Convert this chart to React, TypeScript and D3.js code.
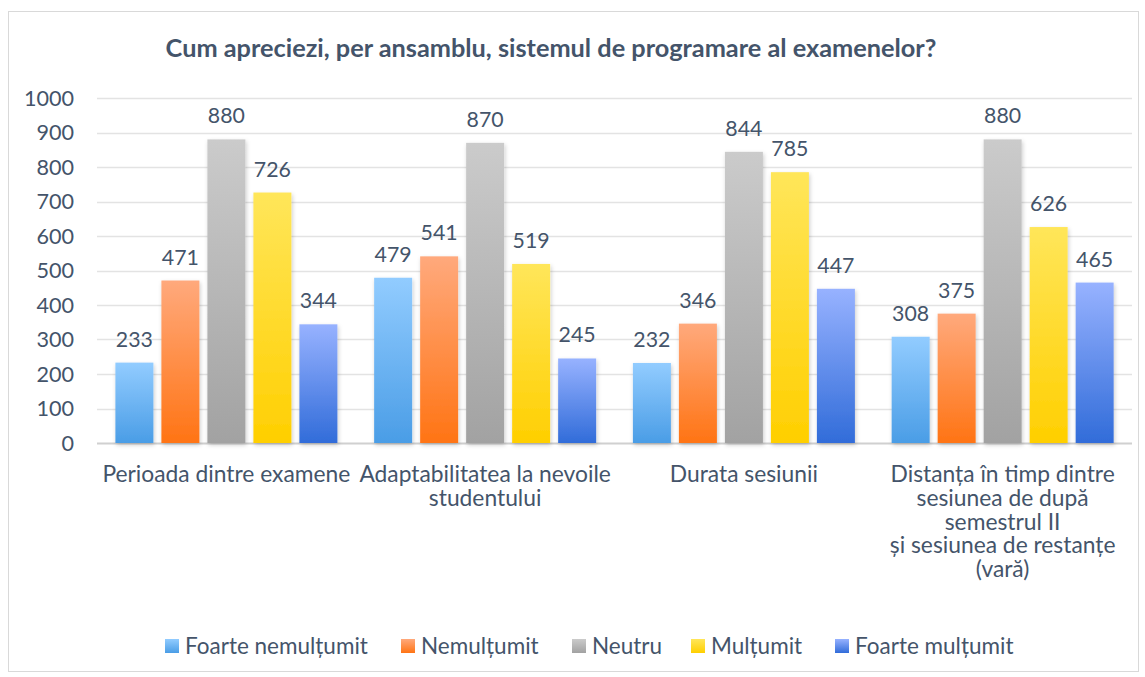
import { useEffect, useRef } from "react";
import * as d3 from "d3";

const categories = [
  ["Perioada dintre examene"],
  ["Adaptabilitatea la nevoile", "studentului"],
  ["Durata sesiunii"],
  ["Distanța în timp dintre", "sesiunea de după", "semestrul II", "și sesiunea de restanțe", "(vară)"],
];
const seriesNames = ["Foarte nemulțumit", "Nemulțumit", "Neutru", "Mulțumit", "Foarte mulțumit"];
const foarteNemultumit = [233, 479, 232, 308];
const nemultumit = [471, 541, 346, 375];
const neutru = [880, 870, 844, 880];
const multumit = [726, 519, 785, 626];
const foarteMultumit = [344, 245, 447, 465];
const yTicks = [0, 100, 200, 300, 400, 500, 600, 700, 800, 900, 1000];
const title = "Cum apreciezi, per ansamblu, sistemul de programare al examenelor?";

// top / bottom gradient colours per series
const gradients = [
  ["#92ccff", "#4a9de6"],
  ["#ffa97c", "#ff7414"],
  ["#cbcbcb", "#a2a2a2"],
  ["#ffe65a", "#ffcf00"],
  ["#97b2ff", "#316cd9"],
];

const W = 1145;
const H = 677;
const FONT = "Lato, sans-serif";
const TEXT = "#44546a";

export default function App() {
  const ref = useRef<SVGSVGElement>(null);

  useEffect(() => {
    const svg = d3.select(ref.current);
    svg.selectAll("*").remove();

    const series = [foarteNemultumit, nemultumit, neutru, multumit, foarteMultumit];
    const plot = { left: 97, right: 1132, top: 98, bottom: 443 };

    const defs = svg.append("defs");
    gradients.forEach((g, i) => {
      const lg = defs
        .append("linearGradient")
        .attr("id", `grad${i}`)
        .attr("x1", 0)
        .attr("y1", 0)
        .attr("x2", 0)
        .attr("y2", 1);
      lg.append("stop").attr("offset", "0%").attr("stop-color", g[0]);
      lg.append("stop").attr("offset", "100%").attr("stop-color", g[1]);
    });
    const f = defs.append("filter").attr("id", "shadow").attr("x", "-20%").attr("y", "-5%").attr("width", "140%").attr("height", "115%");
    f.append("feDropShadow").attr("dx", 1).attr("dy", 2).attr("stdDeviation", 2).attr("flood-color", "#000").attr("flood-opacity", 0.2);

    // outer frame
    svg
      .append("rect")
      .attr("x", 8.5)
      .attr("y", 11.5)
      .attr("width", 1130)
      .attr("height", 660)
      .attr("fill", "#fff")
      .attr("stroke", "#d9d9d9");

    svg
      .append("text")
      .attr("x", 551)
      .attr("y", 57)
      .attr("text-anchor", "middle")
      .attr("font-family", FONT)
      .attr("font-weight", "bold")
      .attr("font-size", 25.3)
      .attr("fill", TEXT)
      .text(title);

    const y = d3.scaleLinear().domain([0, 1000]).range([plot.bottom, plot.top]);
    const x0 = d3
      .scaleBand<number>()
      .domain(categories.map((_, i) => i))
      .range([plot.left, plot.right]);
    const x1 = d3
      .scaleBand<number>()
      .domain(seriesNames.map((_, i) => i))
      .range([18.4, 240.4])
      .paddingInner(0.174);

    // gridlines
    svg
      .append("g")
      .selectAll("line")
      .data(yTicks)
      .join("line")
      .attr("x1", plot.left)
      .attr("x2", plot.right)
      .attr("y1", (d) => Math.round(y(d)) + 0.5)
      .attr("y2", (d) => Math.round(y(d)) + 0.5)
      .attr("stroke", (d) => (d === 0 ? "#d0d0d0" : "#e3e3e3"))
      .attr("stroke-width", (d) => (d === 0 ? 2 : 1.5));

    // y tick labels
    svg
      .append("g")
      .selectAll("text")
      .data(yTicks)
      .join("text")
      .attr("x", 74)
      .attr("y", (d) => y(d))
      .attr("dy", "0.35em")
      .attr("text-anchor", "end")
      .attr("font-family", FONT)
      .attr("font-size", 21.6)
      .attr("fill", TEXT)
      .text((d) => d);

    // bars
    series.forEach((vals, si) => {
      const g = svg.append("g");
      g.selectAll("rect")
        .data(vals)
        .join("rect")
        .attr("x", (_, ci) => x0(ci)! + x1(si)!)
        .attr("y", (d) => y(d))
        .attr("width", x1.bandwidth())
        .attr("height", (d) => plot.bottom - y(d))
        .attr("fill", `url(#grad${si})`)
        .attr("filter", "url(#shadow)");
      g.selectAll("text")
        .data(vals)
        .join("text")
        .attr("x", (_, ci) => x0(ci)! + x1(si)! + x1.bandwidth() / 2)
        .attr("y", (d) => y(d) - 16)
        .attr("text-anchor", "middle")
        .attr("font-family", FONT)
        .attr("font-size", 21.3)
        .attr("fill", TEXT)
        .text((d) => d);
    });

    // category labels
    categories.forEach((lines, ci) => {
      const cx = x0(ci)! + x0.bandwidth() / 2;
      const t = svg
        .append("text")
        .attr("x", cx)
        .attr("y", 482)
        .attr("text-anchor", "middle")
        .attr("font-family", FONT)
        .attr("font-size", 22.8)
        .attr("fill", TEXT);
      lines.forEach((l, li) => {
        t.append("tspan")
          .attr("x", cx)
          .attr("dy", li === 0 ? 0 : 23.8)
          .text(l);
      });
    });

    // legend
    const legendX = [165, 401, 572, 691, 835];
    seriesNames.forEach((name, i) => {
      const g = svg.append("g").attr("transform", `translate(${legendX[i]},639)`);
      g.append("rect").attr("width", 14).attr("height", 14).attr("fill", `url(#grad${i})`);
      g.append("text")
        .attr("x", 20)
        .attr("y", 7)
        .attr("dy", "0.35em")
        .attr("font-family", FONT)
        .attr("font-size", 22.5)
        .attr("fill", TEXT)
        .text(name);
    });
  }, []);

  return (
    <svg
      ref={ref}
      width={W}
      height={H}
      style={{ position: "absolute", left: 0, top: 0, display: "block" }}
    />
  );
}
